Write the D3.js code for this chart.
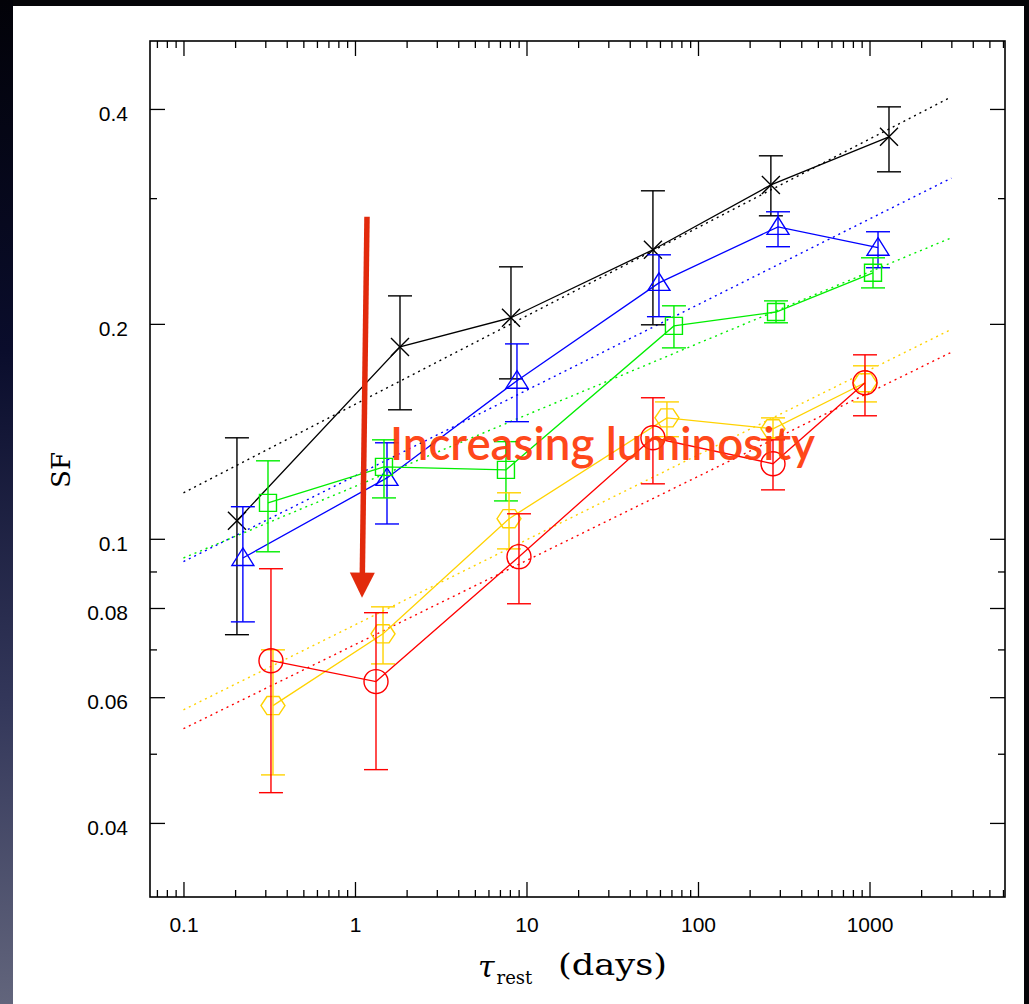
<!DOCTYPE html>
<html>
<head>
<meta charset="utf-8">
<script src="https://cdn.jsdelivr.net/npm/d3@7"></script>
<style>
html, body { margin: 0; padding: 0; background: #000; overflow: hidden; }
</style>
</head>
<body>
<div id="chart"></div>
<script>

//- Data: tau_rest (days), SF, upper / lower error bar ends
const blackTau = [0.205, 1.83, 8.12, 54.6, 266, 1299];
const blackSF  = [0.1060, 0.1857, 0.2040, 0.2540, 0.3131, 0.3656];
const blackHi  = [0.1385, 0.2189, 0.2404, 0.3072, 0.3439, 0.4027];
const blackLo  = [0.0734, 0.1516, 0.1675, 0.1994, 0.2834, 0.3266];

const blueTau = [0.222, 1.537, 8.80, 59.2, 292.8, 1121];
const blueSF  = [0.0940, 0.1217, 0.1665, 0.2283, 0.2735, 0.2557];
const blueHi  = [0.1109, 0.1363, 0.1875, 0.2499, 0.2871, 0.2692];
const blueLo  = [0.0765, 0.1049, 0.1459, 0.2047, 0.2565, 0.2397];

const greenTau = [0.311, 1.476, 7.59, 72.4, 285, 1048];
const greenSF  = [0.1123, 0.1261, 0.1249, 0.1987, 0.2078, 0.2358];
const greenHi  = [0.1286, 0.1376, 0.1368, 0.2120, 0.2154, 0.2475];
const greenLo  = [0.0959, 0.1141, 0.1130, 0.1851, 0.2007, 0.2246];

const yellowTau = [0.3325, 1.457, 7.91, 65.9, 273.7, 941];
const yellowSF  = [0.0584, 0.0736, 0.1067, 0.1477, 0.1426, 0.1654];
const yellowHi  = [0.0699, 0.0803, 0.1160, 0.1555, 0.1477, 0.1747];
const yellowLo  = [0.0467, 0.0668, 0.0968, 0.1390, 0.1380, 0.1555];

const redTau = [0.3237, 1.326, 9.04, 54.6, 273.7, 941];
const redSF  = [0.0675, 0.0631, 0.0944, 0.1385, 0.1274, 0.1654];
const redHi  = [0.0908, 0.0788, 0.1084, 0.1576, 0.1376, 0.1810];
const redLo  = [0.0441, 0.0475, 0.0811, 0.1194, 0.1171, 0.1487];

//- Power-law fits (dotted): SF at start and end of fit range
const fitTau   = [0.1, 3000];
const blackFit  = [0.1160, 0.4159];
const blueFit   = [0.0929, 0.3200];
const greenFit  = [0.0940, 0.2640];
const yellowFit = [0.0576, 0.1965];
const redFit    = [0.0542, 0.1825];

//- Ticks
const xMajorTicks = [0.1, 1, 10, 100, 1000];
const xTickLabels = ["0.1", "1", "10", "100", "1000"];
const xMinorTicks = [0.07, 0.08, 0.09, 0.2, 0.3, 0.4, 0.5, 0.6, 0.7, 0.8, 0.9,
    2, 3, 4, 5, 6, 7, 8, 9, 20, 30, 40, 50, 60, 70, 80, 90,
    200, 300, 400, 500, 600, 700, 800, 900, 2000, 3000, 4000, 5000, 6000];
const yMajorTicks = [0.04, 0.06, 0.08, 0.1, 0.2, 0.4];
const yTickLabels = ["0.04", "0.06", "0.08", "0.1", "0.2", "0.4"];
const yMinorTicks = [0.05, 0.07, 0.09, 0.3];

//- Annotation (data coords)
const arrowTop = [1.175, 0.2825];
const arrowTip = [1.099, 0.0827];
const noteAt   = [1.60, 0.1290];
const noteText = "Increasing luminosity";


const WIDTH = 1029, HEIGHT = 1004;
const plot = { left: 150, top: 41, right: 1005, bottom: 897 };

const svg = d3.select("#chart").append("svg")
    .attr("width", WIDTH)
    .attr("height", HEIGHT);

//-- Background: dark slide with gradient strip on the left
const defs = svg.append("defs");
const grad = defs.append("linearGradient")
    .attr("id", "leftStrip")
    .attr("x1", 0).attr("y1", 0).attr("x2", 0).attr("y2", 1);
grad.append("stop").attr("offset", "0%").attr("stop-color", "#020208");
grad.append("stop").attr("offset", "35%").attr("stop-color", "#0a0d2c");
grad.append("stop").attr("offset", "70%").attr("stop-color", "#33375a");
grad.append("stop").attr("offset", "100%").attr("stop-color", "#62657c");

svg.append("rect").attr("width", WIDTH).attr("height", HEIGHT).attr("fill", "#050508");
svg.append("rect").attr("width", 13).attr("height", HEIGHT).attr("fill", "url(#leftStrip)");
svg.append("rect")
    .attr("x", 13).attr("y", 6)
    .attr("width", 1024 - 13).attr("height", HEIGHT - 6)
    .attr("fill", "#fff");

//-- Scales
const x = d3.scaleLog()
    .domain([0.0638, 6166])
    .range([plot.left, plot.right]);

const y = d3.scaleLog()
    .domain([0.0315, 0.498])
    .range([plot.bottom, plot.top]);

//-- Axes (ticks inward on all four sides)
function styleAxis(g) {
    g.select(".domain").remove();
    g.selectAll(".tick line").attr("stroke", "#000").attr("stroke-width", 1.3);
    g.selectAll(".tick text")
        .attr("fill", "#000")
        .style("font-family", "'Liberation Sans', Arial, sans-serif")
        .style("font-size", "21px");
}

const xLabelMap = new Map(xMajorTicks.map((t, i) => [t, xTickLabels[i]]));
const yLabelMap = new Map(yMajorTicks.map((t, i) => [t, yTickLabels[i]]));

svg.append("g")
    .attr("transform", `translate(0, ${plot.bottom})`)
    .call(d3.axisBottom(x).tickValues(xMajorTicks).tickSize(-15).tickPadding(20)
        .tickFormat(d => xLabelMap.get(d)))
    .call(styleAxis);
svg.append("g")
    .attr("transform", `translate(0, ${plot.bottom})`)
    .call(d3.axisBottom(x).tickValues(xMinorTicks).tickSize(-7).tickFormat(""))
    .call(styleAxis);
svg.append("g")
    .attr("transform", `translate(0, ${plot.top})`)
    .call(d3.axisTop(x).tickValues(xMajorTicks).tickSize(-15).tickFormat(""))
    .call(styleAxis);
svg.append("g")
    .attr("transform", `translate(0, ${plot.top})`)
    .call(d3.axisTop(x).tickValues(xMinorTicks).tickSize(-7).tickFormat(""))
    .call(styleAxis);

const yAxisLeft = svg.append("g")
    .attr("transform", `translate(${plot.left}, 0)`)
    .call(d3.axisLeft(y).tickValues(yMajorTicks).tickSize(-15).tickPadding(22)
        .tickFormat(d => yLabelMap.get(d)))
    .call(styleAxis);
yAxisLeft.selectAll(".tick text").attr("dy", "0.55em");

svg.append("g")
    .attr("transform", `translate(${plot.left}, 0)`)
    .call(d3.axisLeft(y).tickValues(yMinorTicks).tickSize(-7).tickFormat(""))
    .call(styleAxis);
svg.append("g")
    .attr("transform", `translate(${plot.right}, 0)`)
    .call(d3.axisRight(y).tickValues(yMajorTicks).tickSize(-15).tickFormat(""))
    .call(styleAxis);
svg.append("g")
    .attr("transform", `translate(${plot.right}, 0)`)
    .call(d3.axisRight(y).tickValues(yMinorTicks).tickSize(-7).tickFormat(""))
    .call(styleAxis);

//- Frame
svg.append("rect")
    .attr("x", plot.left).attr("y", plot.top)
    .attr("width", plot.right - plot.left).attr("height", plot.bottom - plot.top)
    .attr("fill", "none")
    .attr("stroke", "#000")
    .attr("stroke-width", 1.6);

//-- Series
const series = [
    { name: "black",  color: "#000000", tau: blackTau,  sf: blackSF,  hi: blackHi,  lo: blackLo,  fit: blackFit,  marker: "cross" },
    { name: "blue",   color: "#0000ff", tau: blueTau,   sf: blueSF,   hi: blueHi,   lo: blueLo,   fit: blueFit,   marker: "triangle" },
    { name: "green",  color: "#00ee00", tau: greenTau,  sf: greenSF,  hi: greenHi,  lo: greenLo,  fit: greenFit,  marker: "square" },
    { name: "yellow", color: "#ffd200", tau: yellowTau, sf: yellowSF, hi: yellowHi, lo: yellowLo, fit: yellowFit, marker: "hexagon" },
    { name: "red",    color: "#ff0000", tau: redTau,    sf: redSF,    hi: redHi,    lo: redLo,    fit: redFit,    marker: "circle" }
];

const plotGroup = svg.append("g");

//- Dotted fits first (behind)
series.forEach(s => {
    plotGroup.append("line")
        .attr("x1", x(fitTau[0])).attr("y1", y(s.fit[0]))
        .attr("x2", x(fitTau[1])).attr("y2", y(s.fit[1]))
        .attr("stroke", s.color)
        .attr("stroke-width", 1.4)
        .attr("stroke-dasharray", "2,4");
});

function markerPath(kind, cx, cy) {
    if (kind === "cross") {
        const r = 9;
        return `M${cx - r},${cy - r}L${cx + r},${cy + r}M${cx - r},${cy + r}L${cx + r},${cy - r}`;
    }
    if (kind === "triangle") {
        return `M${cx},${cy - 10}L${cx + 11},${cy + 7.5}L${cx - 11},${cy + 7.5}Z`;
    }
    if (kind === "square") {
        const h = 8.5;
        return `M${cx - h},${cy - h}h${2 * h}v${2 * h}h${-2 * h}Z`;
    }
    if (kind === "hexagon") {
        const pts = d3.range(6).map(i => {
            const a = i * Math.PI / 3;
            return [cx + 12 * Math.cos(a), cy + 12 * Math.sin(a) * 0.87];
        });
        return "M" + pts.map(p => p.join(",")).join("L") + "Z";
    }
    return null;
}

const lineGen = d3.line().x(d => x(d[0])).y(d => y(d[1]));

series.forEach(s => {
    const g = plotGroup.append("g").attr("class", s.name);
    const pts = s.tau.map((t, i) => [t, s.sf[i], s.hi[i], s.lo[i]]);

    //- Connecting line
    g.append("path")
        .attr("d", lineGen(pts))
        .attr("fill", "none")
        .attr("stroke", s.color)
        .attr("stroke-width", 1.3);

    //- Error bars
    const eb = g.selectAll(".err").data(pts).enter().append("g").attr("class", "err")
        .attr("stroke", s.color).attr("stroke-width", 1.4).attr("fill", "none");
    eb.append("line")
        .attr("x1", d => x(d[0])).attr("x2", d => x(d[0]))
        .attr("y1", d => y(d[2])).attr("y2", d => y(d[3]));
    eb.append("line")
        .attr("x1", d => x(d[0]) - 12).attr("x2", d => x(d[0]) + 12)
        .attr("y1", d => y(d[2])).attr("y2", d => y(d[2]));
    eb.append("line")
        .attr("x1", d => x(d[0]) - 12).attr("x2", d => x(d[0]) + 12)
        .attr("y1", d => y(d[3])).attr("y2", d => y(d[3]));

    //- Markers
    if (s.marker === "circle") {
        g.selectAll(".mk").data(pts).enter().append("circle")
            .attr("cx", d => x(d[0])).attr("cy", d => y(d[1])).attr("r", 12)
            .attr("fill", "none").attr("stroke", s.color).attr("stroke-width", 1.4);
    } else {
        g.selectAll(".mk").data(pts).enter().append("path")
            .attr("d", d => markerPath(s.marker, x(d[0]), y(d[1])))
            .attr("fill", "none").attr("stroke", s.color).attr("stroke-width", 1.4);
    }
});

//-- Annotation: arrow + text
const ax0 = x(arrowTop[0]), ay0 = y(arrowTop[1]);
const ax1 = x(arrowTip[0]), ay1 = y(arrowTip[1]);
const headLen = 25, headHalf = 12.5;
const ang = Math.atan2(ay1 - ay0, ax1 - ax0);
const bx = ax1 - headLen * Math.cos(ang), by = ay1 - headLen * Math.sin(ang);
const px = -Math.sin(ang), py = Math.cos(ang);

svg.append("line")
    .attr("x1", ax0).attr("y1", ay0)
    .attr("x2", bx + 2 * Math.cos(ang)).attr("y2", by + 2 * Math.sin(ang))
    .attr("stroke", "#e22a0c")
    .attr("stroke-width", 5.5);
svg.append("path")
    .attr("d", `M${ax1},${ay1}L${bx + px * headHalf},${by + py * headHalf}L${bx - px * headHalf},${by - py * headHalf}Z`)
    .attr("fill", "#e22a0c");

svg.append("text")
    .attr("x", x(noteAt[0]))
    .attr("y", y(noteAt[1]))
    .attr("textLength", 425)
    .attr("lengthAdjust", "spacingAndGlyphs")
    .style("font-family", "Lato, 'Open Sans', sans-serif")
    .style("font-size", "47px")
    .style("font-weight", 600)
    .attr("fill", "#ff3c0c")
    .attr("fill-opacity", 0.95)
    .text(noteText);

//-- Axis titles
svg.append("text")
    .attr("transform", `translate(70, 470) rotate(-90)`)
    .attr("text-anchor", "middle")
    .style("font-family", "'DejaVu Serif', 'Liberation Serif', serif")
    .style("font-size", "26px")
    .attr("fill", "#000")
    .text("SF");

const xTitle = svg.append("text")
    .attr("x", 478)
    .attr("y", 977)
    .style("font-family", "'DejaVu Serif', 'Liberation Serif', serif")
    .attr("fill", "#000");
xTitle.append("tspan")
    .style("font-size", "30px")
    .style("font-style", "italic")
    .text("τ");
xTitle.append("tspan")
    .attr("dy", 7)
    .attr("dx", 2)
    .style("font-size", "18px")
    .text("rest");

svg.append("text")
    .attr("x", 558)
    .attr("y", 975)
    .attr("textLength", 109)
    .attr("lengthAdjust", "spacingAndGlyphs")
    .style("font-family", "'DejaVu Serif', 'Liberation Serif', serif")
    .style("font-size", "29px")
    .attr("fill", "#000")
    .text("(days)");

</script>
</body>
</html>
